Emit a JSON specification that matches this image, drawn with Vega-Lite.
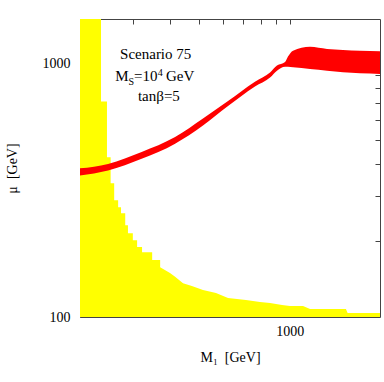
{
  "$schema": "https://vega.github.io/schema/vega-lite/v6.json",
  "width": 300,
  "height": 298,
  "autosize": "none",
  "padding": {"left": 80, "top": 19, "right": 4, "bottom": 65},
  "background": "white",
  "config": {
    "view": {"stroke": "#444", "strokeWidth": 1},
    "axis": {
      "grid": false,
      "domain": false,
      "zindex": 1,
      "tickColor": "#444",
      "tickSize": -5,
      "labelFont": "Liberation Serif",
      "labelFontSize": 14,
      "labelColor": "black",
      "titleFont": "Liberation Serif",
      "titleFontSize": 14,
      "titleFontWeight": "normal",
      "titleColor": "black"
    }
  },
  "datasets": {
    "allowed": [
      {"m1": 200, "mu": 1500},
      {"m1": 235, "mu": 1500},
      {"m1": 235, "mu": 708},
      {"m1": 246, "mu": 708},
      {"m1": 246, "mu": 427},
      {"m1": 253, "mu": 427},
      {"m1": 253, "mu": 337},
      {"m1": 260, "mu": 337},
      {"m1": 260, "mu": 289},
      {"m1": 268, "mu": 289},
      {"m1": 268, "mu": 271},
      {"m1": 274, "mu": 271},
      {"m1": 274, "mu": 257},
      {"m1": 283, "mu": 257},
      {"m1": 283, "mu": 230},
      {"m1": 289, "mu": 230},
      {"m1": 289, "mu": 214},
      {"m1": 300, "mu": 214},
      {"m1": 300, "mu": 201},
      {"m1": 310, "mu": 201},
      {"m1": 310, "mu": 189},
      {"m1": 322, "mu": 189},
      {"m1": 322, "mu": 180},
      {"m1": 348, "mu": 180},
      {"m1": 348, "mu": 168},
      {"m1": 370, "mu": 168},
      {"m1": 370, "mu": 157},
      {"m1": 399, "mu": 149},
      {"m1": 415, "mu": 144},
      {"m1": 441, "mu": 136},
      {"m1": 472, "mu": 132.5},
      {"m1": 514, "mu": 127.7},
      {"m1": 568, "mu": 124.3},
      {"m1": 623, "mu": 118.8},
      {"m1": 715, "mu": 116.7},
      {"m1": 796, "mu": 114.6},
      {"m1": 860, "mu": 113.5},
      {"m1": 943, "mu": 111.5},
      {"m1": 1002, "mu": 110.5},
      {"m1": 1108, "mu": 110.5},
      {"m1": 1169, "mu": 107.5},
      {"m1": 1540, "mu": 107.5},
      {"m1": 1560, "mu": 103.7},
      {"m1": 2000, "mu": 103.7}
    ],
    "band": [
      {"m1": 200, "lo": 362, "hi": 386},
      {"m1": 248, "lo": 379, "hi": 402},
      {"m1": 321, "lo": 421, "hi": 448},
      {"m1": 415, "lo": 483, "hi": 513},
      {"m1": 514, "lo": 570, "hi": 607},
      {"m1": 623, "lo": 680, "hi": 712},
      {"m1": 766, "lo": 812, "hi": 849},
      {"m1": 860, "lo": 881, "hi": 922},
      {"m1": 907, "lo": 938, "hi": 982},
      {"m1": 965, "lo": 973, "hi": 1014},
      {"m1": 987, "lo": 973, "hi": 1066},
      {"m1": 1026, "lo": 967, "hi": 1125},
      {"m1": 1169, "lo": 953, "hi": 1166},
      {"m1": 1332, "lo": 938, "hi": 1143},
      {"m1": 1505, "lo": 924, "hi": 1132},
      {"m1": 1715, "lo": 916, "hi": 1125},
      {"m1": 2000, "lo": 911, "hi": 1118}
    ],
    "labels": [
      {"m1": 272, "mu": 1044, "t": "Scenario 75"},
      {"m1": 262, "mu": 852, "t": "M"},
      {"m1": 303, "mu": 852, "t": "=10"},
      {"m1": 387, "mu": 852, "t": "GeV"},
      {"m1": 312, "mu": 711, "t": "tanβ=5"}
    ],
    "small": [
      {"m1": 290, "mu": 826, "t": "S"},
      {"m1": 363, "mu": 893, "t": "4"}
    ]
  },
  "layer": [
    {
      "data": {"name": "allowed"},
      "mark": {"type": "area", "interpolate": "linear", "color": "#ffff00", "clip": true},
      "encoding": {
        "x": {
          "field": "m1", "type": "quantitative",
          "scale": {"type": "log", "domain": [200, 2000], "nice": false},
          "axis": {
            "orient": "bottom",
            "values": [300, 400, 500, 600, 700, 800, 900, 1000],
            "labelExpr": "datum.value == 1000 ? '1000' : ''",
            "labelPadding": 12,
            "title": "M₁\u00a0\u00a0[GeV]",
            "titlePadding": 12
          }
        },
        "y": {
          "field": "mu", "type": "quantitative",
          "scale": {"type": "log", "domain": [100, 1500], "nice": false},
          "axis": {
            "orient": "left",
            "values": [100, 200, 300, 400, 500, 600, 700, 800, 900, 1000],
            "labelExpr": "datum.value == 1000 ? '1000' : datum.value == 100 ? '100' : ''",
            "labelPadding": 15,
            "title": "μ\u00a0\u00a0[GeV]",
            "titlePadding": 23
          }
        },
        "y2": {"datum": 100}
      }
    },
    {
      "data": {"name": "band"},
      "mark": {"type": "area", "interpolate": "monotone", "color": "#ff0000", "clip": true},
      "encoding": {
        "x": {
          "field": "m1", "type": "quantitative",
          "scale": {"type": "log", "domain": [200, 2000], "nice": false},
          "axis": {"orient": "top", "values": [300, 400, 500, 600, 700, 800, 900, 1000], "labels": false, "title": null}
        },
        "y": {
          "field": "hi", "type": "quantitative",
          "scale": {"type": "log", "domain": [100, 1500], "nice": false},
          "axis": {"orient": "right", "values": [200, 300, 400, 500, 600, 700, 800, 900, 1000], "labels": false, "title": null}
        },
        "y2": {"field": "lo"}
      }
    },
    {
      "data": {"name": "labels"},
      "mark": {"type": "text", "align": "left", "baseline": "alphabetic", "font": "Liberation Serif", "fontSize": 15, "color": "black"},
      "encoding": {
        "x": {"field": "m1", "type": "quantitative", "scale": {"type": "log", "domain": [200, 2000], "nice": false}, "axis": null},
        "y": {"field": "mu", "type": "quantitative", "scale": {"type": "log", "domain": [100, 1500], "nice": false}, "axis": null},
        "text": {"field": "t"}
      }
    },
    {
      "data": {"name": "small"},
      "mark": {"type": "text", "align": "left", "baseline": "alphabetic", "font": "Liberation Serif", "fontSize": 10, "color": "black"},
      "encoding": {
        "x": {"field": "m1", "type": "quantitative", "scale": {"type": "log", "domain": [200, 2000], "nice": false}, "axis": null},
        "y": {"field": "mu", "type": "quantitative", "scale": {"type": "log", "domain": [100, 1500], "nice": false}, "axis": null},
        "text": {"field": "t"}
      }
    }
  ],
  "resolve": {"axis": {"x": "independent", "y": "independent"}}
}
